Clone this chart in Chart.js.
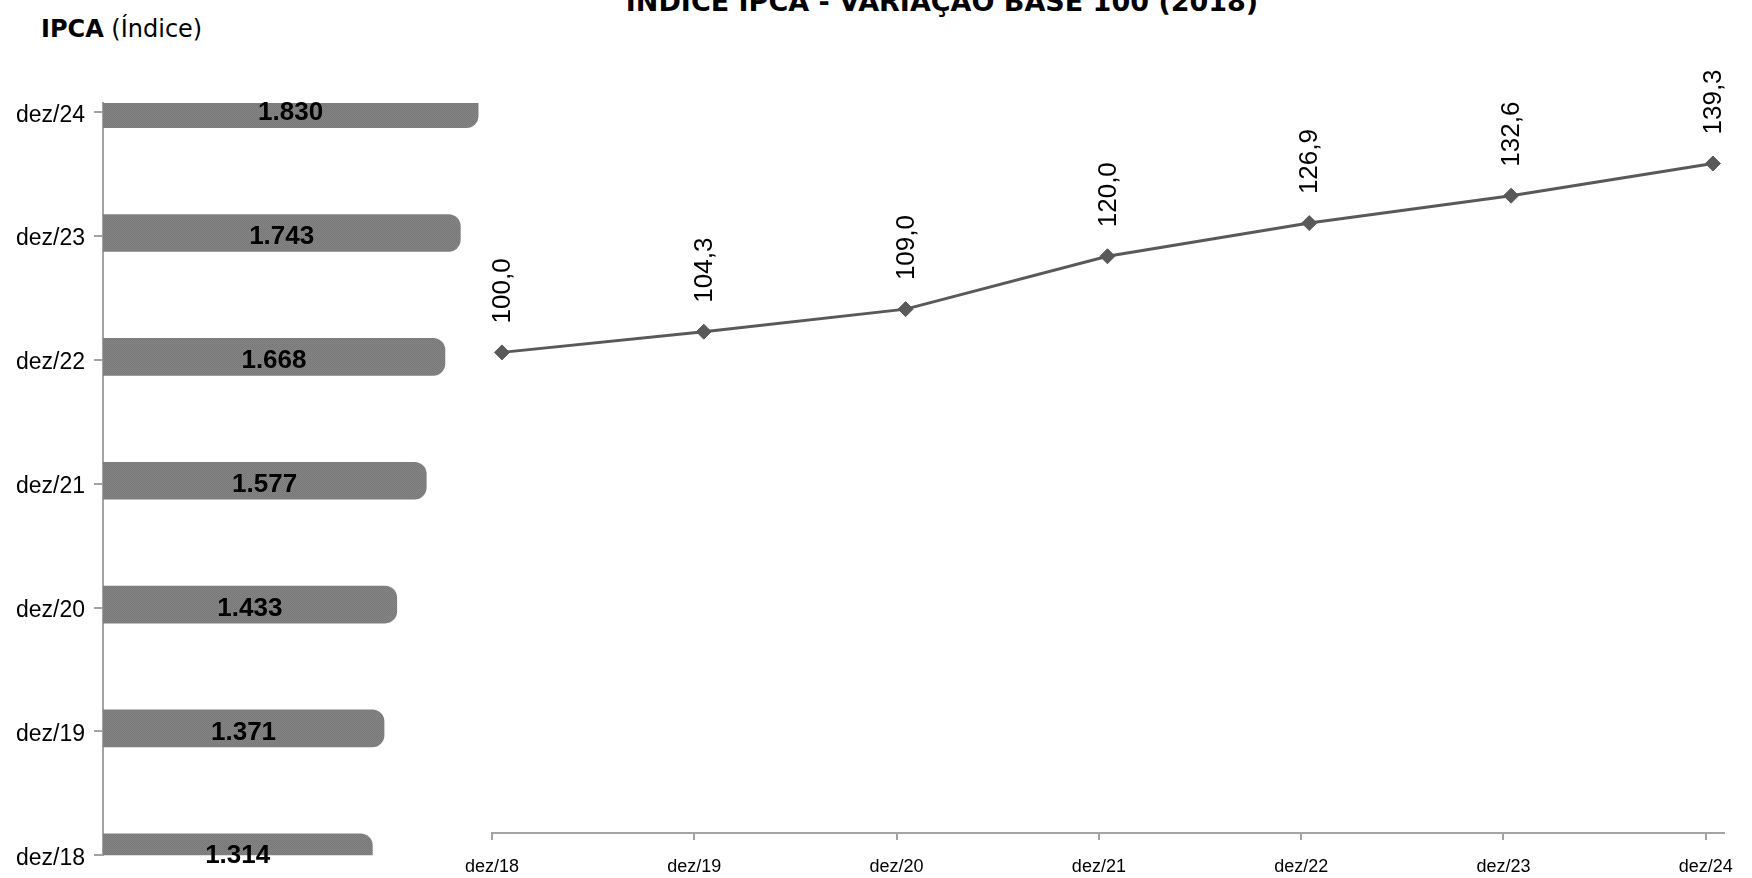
<!DOCTYPE html>
<html lang="pt-BR">
<head>
<meta charset="utf-8">
<title>Índice IPCA - variação base 100 (2018)</title>
<script src="https://cdn.jsdelivr.net/npm/chart.js@4/dist/chart.umd.min.js"></script>
<style>
  html, body { margin: 0; padding: 0; background: #fff; }
  body { width: 1752px; height: 878px; position: relative; overflow: hidden; font-family: "DejaVu Sans", sans-serif; color: #000; }
  canvas { position: absolute; left: 0; top: 0; }
  #titulo { position: absolute; left: 942px; top: -14px; transform: translateX(-50%); font-weight: bold; font-size: 27px; line-height: 32px; white-space: nowrap; }
  #eixo { position: absolute; left: 41px; top: 15px; font-size: 24px; line-height: 28px; white-space: nowrap; }
</style>
</head>
<body>
<div id="titulo">ÍNDICE IPCA - VARIAÇÃO BASE 100 (2018)</div>
<div id="eixo"><b>IPCA</b> (Índice)</div>
<canvas id="barras" width="1752" height="878"></canvas>
<canvas id="linha" width="1752" height="878"></canvas>
<script>

const categorias = ['dez/18', 'dez/19', 'dez/20', 'dez/21', 'dez/22', 'dez/23', 'dez/24'];
const indice = [1.314, 1.371, 1.433, 1.577, 1.668, 1.743, 1.830];
const base100 = [100.0, 104.3, 109.0, 120.0, 126.9, 132.6, 139.3];

Chart.defaults.font.family = '"Liberation Sans", Arial, sans-serif';
Chart.defaults.color = '#000';

const cinzaEixo = '#a3a3a3';


// textura pontilhada das barras
function texturaCinza(){
    let c = document.createElement('canvas');
    c.width = 2;
    c.height = 2;
    let g = c.getContext('2d');
    g.fillStyle = '#858585';
    g.fillRect(0, 0, 2, 2);
    g.fillStyle = '#787878';
    g.fillRect(0, 0, 1, 1);
    g.fillRect(1, 1, 1, 1);
    return g.createPattern(c, 'repeat');
}

// rotulos dentro das barras
const rotulosBarras = {
    id: 'rotulosBarras',
    afterDatasetsDraw(chart) {
        let ctx = chart.ctx;
        let meta = chart.getDatasetMeta(0);
        ctx.save();
        ctx.font = 'bold 26px "Liberation Sans"';
        ctx.fillStyle = '#000';
        ctx.textAlign = 'center';
        ctx.textBaseline = 'middle';
        meta.data.forEach((bar, i) => {
            ctx.fillText(indice[i].toFixed(3), (bar.base + bar.x) / 2, bar.y + 4);
        });
        ctx.restore();
    }
};

// rotulos verticais acima dos pontos
const rotulosLinha = {
    id: 'rotulosLinha',
    afterDatasetsDraw(chart) {
        let ctx = chart.ctx;
        let meta = chart.getDatasetMeta(0);
        ctx.save();
        ctx.font = '26px "Liberation Sans"';
        ctx.fillStyle = '#000';
        ctx.textAlign = 'left';
        ctx.textBaseline = 'middle';
        meta.data.forEach((pt, i) => {
            ctx.save();
            ctx.translate(pt.x + 1, pt.y - 29);
            ctx.rotate(-Math.PI / 2);
            ctx.fillText(base100[i].toFixed(1).replace('.', ','), 0, 0);
            ctx.restore();
        });
        ctx.restore();
    }
};


function barrasIndice(){

    let ctx = document.getElementById('barras');

    let config = {
        type: 'bar',
        data: {
            datasets: [{
                data: categorias.map((c, i) => ({x: indice[i], y: i})),
                backgroundColor: texturaCinza(),
                borderRadius: 12,
                borderSkipped: 'start',
                barThickness: 37,
                clip: 0,
                yAxisID: 'yBarras'
            }]
        },
        options: {
            indexAxis: 'y',
            responsive: false,
            animation: false,
            events: [],
            layout: {
                padding: {left: 0, top: 103, right: 1752 - 513, bottom: 20}
            },
            plugins: {
                legend: {display: false},
                tooltip: {enabled: false}
            },
            scales: {
                x: {type: 'linear', display: false, min: 0, max: 2},
                yBarras: {
                    type: 'linear', display: false, offset: false,
                    grid: {offset: false},
                    min: -0.024, max: 6.05
                },
                y: {
                    type: 'linear',
                    position: 'left',
                    offset: false,
                    min: 0,
                    max: 6.074,
                    afterBuildTicks: s => { s.ticks = categorias.map((c, i) => ({value: i})); },
                    afterFit: s => { s.width = 103; },
                    ticks: {
                        callback: v => categorias[v],
                        font: {size: 23},
                        color: '#000',
                        padding: 9,
                        labelOffset: 3,
                        autoSkip: false
                    },
                    grid: {offset: false, drawOnChartArea: false, color: cinzaEixo, lineWidth: 2, tickLength: 9},
                    border: {color: cinzaEixo, width: 2}
                }
            }
        },
        plugins: [rotulosBarras]
    }

    new Chart(ctx, config);

    return ctx
}


function linhaBase100(){

    let ctx = document.getElementById('linha');

    let config = {
        type: 'line',
        data: {
            datasets: [{
                data: categorias.map((c, i) => ({x: i, y: base100[i]})),
                xAxisID: 'xPontos',
                borderColor: '#595959',
                borderWidth: 3,
                tension: 0,
                pointStyle: 'rectRot',
                pointRadius: 7.5,
                pointBackgroundColor: '#595959',
                pointBorderColor: '#595959',
                pointBorderWidth: 1,
                clip: false
            }]
        },
        options: {
            responsive: false,
            animation: false,
            events: [],
            layout: {
                padding: {left: 492, top: 64, right: 28, bottom: 0}
            },
            plugins: {
                legend: {display: false},
                tooltip: {enabled: false}
            },
            scales: {
                xPontos: {type: 'linear', display: false, min: -0.0496, max: 6.055},
                x: {
                    type: 'linear',
                    position: 'bottom',
                    min: 0,
                    max: 6.09,
                    afterBuildTicks: s => { s.ticks = categorias.map((c, i) => ({value: i})); },
                    afterFit: s => { s.height = 45; },
                    ticks: {
                        callback: v => categorias[v],
                        font: {size: 18},
                        color: '#000',
                        padding: 16,
                        maxRotation: 0,
                        autoSkip: false
                    },
                    grid: {drawOnChartArea: false, color: cinzaEixo, lineWidth: 2, tickLength: 7},
                    border: {color: cinzaEixo, width: 2}
                },
                y: {type: 'linear', display: false, min: 0, max: 160}
            }
        },
        plugins: [rotulosLinha]
    }

    new Chart(ctx, config);

    return ctx
}


barrasIndice();
linhaBase100();

</script>
</body>
</html>
